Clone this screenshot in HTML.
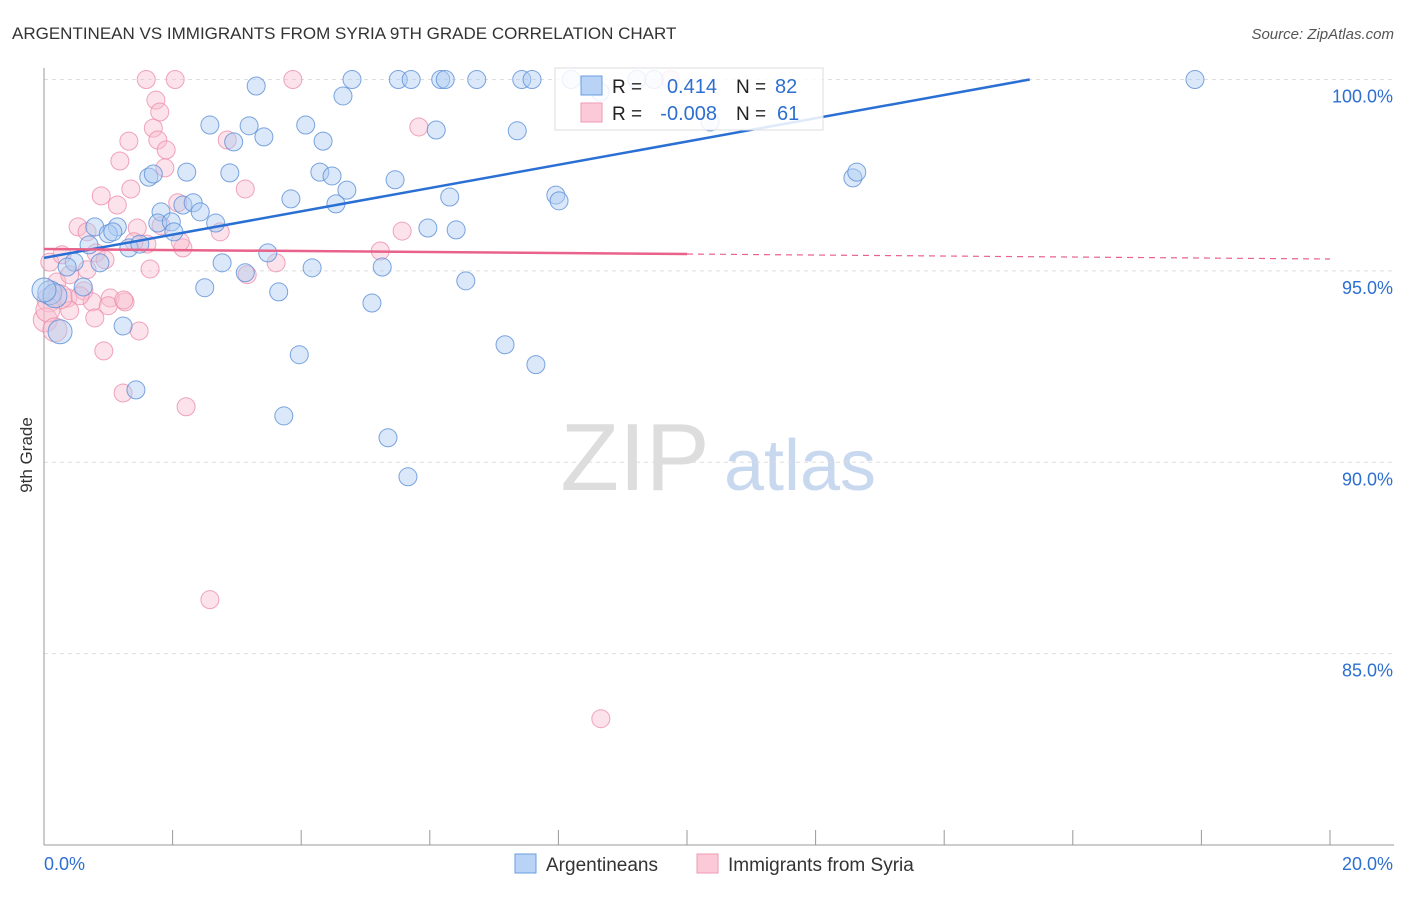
<!DOCTYPE html>
<html><head><meta charset="utf-8"><style>
body{margin:0;background:#fff;font-family:"Liberation Sans",sans-serif;}
svg text{font-family:"Liberation Sans",sans-serif;}
</style></head><body>
<svg id="chart" width="1406" height="892" xmlns="http://www.w3.org/2000/svg">
<text x="12" y="39" font-size="17" fill="#333">ARGENTINEAN VS IMMIGRANTS FROM SYRIA 9TH GRADE CORRELATION CHART</text>
<text x="1394" y="39" font-size="15" fill="#555" text-anchor="end" font-style="italic">Source: ZipAtlas.com</text>
<text x="32" y="455" font-size="17" fill="#333" transform="rotate(-90 32 455)" text-anchor="middle">9th Grade</text>
<g><text x="635" y="490" font-size="96" fill="#ddd" text-anchor="middle" font-family="Liberation Serif">ZIP</text><text x="800" y="490" font-size="72" fill="#c8d8ef" text-anchor="middle">atlas</text></g>
<g id="grid"></g><g id="axes"></g><g id="pts"></g><g id="lines"></g>
<g>
<rect x="555" y="68" width="268" height="62" fill="#fff" fill-opacity="0.85" stroke="#ddd"/>
<rect x="581" y="76" width="21" height="19" fill="#b8d3f5" stroke="#6a9de0"/>
<rect x="581" y="103" width="21" height="19" fill="#fcc9d8" stroke="#ef9ab3"/>
<text x="612" y="93" font-size="19" fill="#222">R = </text><text x="717" y="93" font-size="20" fill="#2d6fd0" text-anchor="end">0.414</text>
<text x="736" y="93" font-size="19" fill="#222">N = </text><text x="775" y="93" font-size="20" fill="#2d6fd0">82</text>
<text x="612" y="120" font-size="19" fill="#222">R = </text><text x="717" y="120" font-size="20" fill="#2d6fd0" text-anchor="end">-0.008</text>
<text x="736" y="120" font-size="19" fill="#222">N = </text><text x="777" y="120" font-size="20" fill="#2d6fd0">61</text>
</g>
<g>
<rect x="515" y="854" width="21" height="19" fill="#b8d3f5" stroke="#6a9de0"/>
<text x="546" y="871" font-size="19" fill="#333">Argentineans</text>
<rect x="697" y="854" width="21" height="19" fill="#fcc9d8" stroke="#ef9ab3"/>
<text x="728" y="871" font-size="19" fill="#333">Immigrants from Syria</text>
</g>
</svg>
<script>
const yTicks=[100,95,90,85];
const yTickLabels=["100.0%","95.0%","90.0%","85.0%"];
const xTickLabels=["0.0%","20.0%"];
const blueX=[3.30,4.79,5.51,5.71,6.17,6.24,6.73,7.43,7.59,8.20,9.22,9.49,17.90,4.65,2.58,3.19,4.07,3.42,6.10,7.36,4.34,2.95,2.22,1.63,1.70,2.89,4.29,4.48,5.46,12.58,12.64,4.71,3.84,6.31,7.96,8.01,4.54,2.16,2.32,2.43,1.82,2.67,1.77,1.98,0.79,1.14,1.00,1.07,2.02,5.97,6.41,0.70,1.32,1.49,3.48,0.87,0.47,0.36,2.77,4.17,5.26,3.13,0.61,2.50,3.65,6.56,5.10,0.09,0.17,1.23,0.25,7.17,7.65,3.97,1.43,3.73,5.35,5.66,10.36,8.65,0.00];
const blueY=[99.83,100,100,100,100,100,100,100,100,100,100,100,100,99.57,98.81,98.79,98.81,98.50,98.68,98.66,98.39,98.37,97.58,97.45,97.53,97.56,97.58,97.48,97.38,97.43,97.58,97.11,96.88,96.93,96.98,96.83,96.75,96.72,96.78,96.54,96.54,96.25,96.25,96.28,96.15,96.15,95.97,96.02,96.02,96.12,96.07,95.68,95.60,95.70,95.47,95.21,95.23,95.10,95.21,95.08,95.10,94.95,94.58,94.56,94.45,94.74,94.16,94.43,94.35,93.56,93.41,93.07,92.55,92.81,91.89,91.21,90.64,89.62,98.89,99.67,94.50];
const pinkX=[1.59,2.04,3.87,9.74,1.74,1.80,1.70,5.83,1.32,1.77,2.85,1.90,1.18,1.88,1.35,3.13,0.89,1.14,2.08,0.53,0.67,1.45,1.82,2.74,5.57,0.09,0.28,0.81,0.95,1.60,1.40,2.16,5.23,3.61,0.67,1.65,3.16,0.20,0.62,0.37,0.75,1.03,1.00,1.26,0.40,0.79,0.08,0.02,1.48,0.93,1.23,2.21,2.58,8.66,2.12,0.40,0.25,0.06,0.17,0.56,1.24];
const pinkY=[100,100,100,100,99.46,99.15,98.73,98.76,98.39,98.42,98.42,98.16,97.87,97.69,97.14,97.14,96.96,96.72,96.78,96.15,96.02,96.12,96.18,96.02,96.04,95.23,95.42,95.47,95.29,95.70,95.76,95.60,95.52,95.21,95.03,95.05,94.90,94.71,94.48,94.29,94.19,94.29,94.09,94.19,93.96,93.77,94.24,93.72,93.43,92.91,91.81,91.45,86.41,83.30,95.76,94.90,94.32,93.98,93.46,94.35,94.24];
const blueTrend=[[0,95.34],[15.33,100]];
const pinkTrend=[[0,95.57],[10,95.44],[20,95.31]];
const NS="http://www.w3.org/2000/svg";
const xS=v=>44+v/20*1286;
const yS=v=>845-(v-80)*38.275;
function mk(tag,attrs,parent){const e=document.createElementNS(NS,tag);for(const k in attrs)e.setAttribute(k,attrs[k]);document.getElementById(parent).appendChild(e);return e;}
yTicks.forEach((t,i)=>{
 const l=mk('line',{x1:44,x2:1394,y1:yS(t),y2:yS(t),stroke:'#ddd','stroke-dasharray':'4,4'},'grid');
 
 
 const tx=mk('text',{x:1393,y:yS(t)+23,'font-size':18,fill:'#2d6fd0','text-anchor':'end'},'axes');
 tx.textContent=yTickLabels[i];
 
 
});
mk('line',{x1:44,x2:44,y1:68,y2:845,stroke:'#999'},'axes');
mk('line',{x1:44,x2:1394,y1:845,y2:845,stroke:'#999'},'axes');
for(let i=0;i<=10;i++){const t=mk('line',{x1:xS(i*2),x2:xS(i*2),y1:830,y2:845,stroke:'#999'},'axes');
 
 }
[[44,'start'],[1393,'end']].forEach((p,i)=>{const t=mk('text',{x:p[0],y:870,'font-size':18,fill:'#2d6fd0','text-anchor':p[1]},'axes');t.textContent=xTickLabels[i];
 
 });
function dots(xs,ys,fill,stroke,name){xs.forEach((x,i)=>{
 let r=9; if(x<0.3&&ys[i]<94.6&&ys[i]>93.3)r=12;
 const c=mk('circle',{cx:xS(x),cy:yS(ys[i]),r:r,fill:fill,'fill-opacity':0.45,stroke:stroke,'stroke-opacity':0.8,'stroke-width':1},'pts');
 
 });}
dots(pinkX,pinkY,'#f9bfd0','#ec8fab','point-syria');
dots(blueX,blueY,'#aecbf2','#5b8fd8','point-argentineans');
const bl=mk('line',{x1:xS(blueTrend[0][0]),y1:yS(blueTrend[0][1]),x2:xS(blueTrend[1][0]),y2:yS(blueTrend[1][1]),stroke:'#2a6fd3','stroke-width':2.5},'lines');


const pl=mk('line',{x1:xS(pinkTrend[0][0]),y1:yS(pinkTrend[0][1]),x2:xS(pinkTrend[1][0]),y2:yS(pinkTrend[1][1]),stroke:'#e8628c','stroke-width':2.5},'lines');


const pd=mk('line',{x1:xS(pinkTrend[1][0]),y1:yS(pinkTrend[1][1]),x2:xS(pinkTrend[2][0]),y2:yS(pinkTrend[2][1]),stroke:'#e8628c','stroke-width':1.2,'stroke-dasharray':'6,5'},'lines');


</script>
</body></html>
